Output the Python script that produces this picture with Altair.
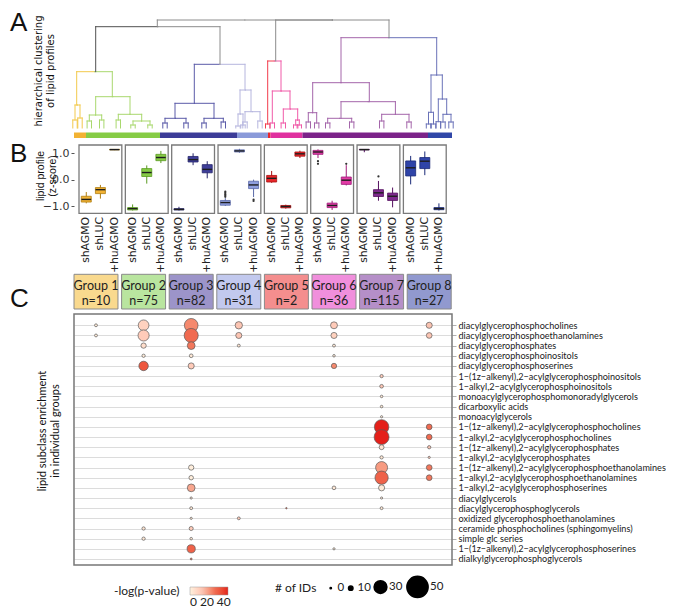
import altair as alt
import pandas as pd

W, H = 378, 555

# ---------------- data ----------------
group_ids = [1, 2, 3, 4, 5, 6, 7, 8]
group_n = [10, 75, 82, 31, 2, 36, 115, 27]
conditions = ["shAGMO", "shLUC", "+huAGMO"]

group_bar_color = ["#f2b233", "#86cc45", "#3c3c98", "#8a9ad9", "#e8262a", "#e0319f", "#7c2389", "#3047a8"]
group_dendro_color = ["#f2c94c", "#a9d86e", "#5b5ba8", "#b6b6de", "#f23c4c", "#f05aa8", "#a466aa", "#6a72b8"]
group_box_fill = ["#f2b233", "#86cc45", "#3f3f9a", "#8e9ede", "#e8262a", "#e23ba6", "#7e2a8e", "#2f44a8"]
group_box_stroke = ["#b07d10", "#5a9a20", "#25256a", "#5a6aa8", "#a81010", "#a01a78", "#551060", "#1a2a78"]
group_label_fill = ["#f9d98e", "#b9e59f", "#9c94c9", "#c2c9ee", "#f48e8e", "#f08fdc", "#b58fc8", "#9199cf"]

# colour bar under the dendrogram (leaf positions)
bar_start = [0, 12, 86, 163, 194, 196.5, 228.5, 354]
bar_end = [12, 86, 163, 194, 196.5, 228.5, 354, 378]

# dendrogram links (leaf position of the two children, merge distance, child distances)
link_x1 = [83.3, 201.7, 21.7, 2.7, 1, 21.7, 15.3, 44.3, 59, 120.3, 101, 91, 130, 166, 164, 171,
           193.7, 198.3, 209.3, 221.7, 267, 238.7, 234.3, 267, 253.7, 307.7, 357, 354.5, 364.3, 369]
link_x2 = [258.4, 315, 146, 38.3, 6, 56, 27.7, 67.7, 76, 171, 140, 112, 149.3, 177, 169, 186,
           207, 216, 223.7, 225.3, 362.7, 295.3, 242.7, 321.4, 277.7, 335, 368.3, 359.5, 372.7, 377]
link_h = [108, 108, 101.3, 56.3, 23, 31.3, 13, 13.7, 7, 63.7, 24.7, 9.7, 9.7, 38, 14, 16.3,
          67, 37, 19, 8, 90.3, 45.3, 15.3, 26.3, 9.7, 13.7, 53, 15.7, 29, 13.7]
link_h1 = [101.3, 67, 56.3, 23, 8, 13, 7, 8, 3, 24.7, 9.7, 5, 5, 14, 2, 6,
           4, 5, 5, 3, 45.3, 15.3, 6, 9.7, 5, 7, 15.7, 4, 6.3, 6]
link_h2 = [108, 90.3, 63.7, 31.3, 10, 13.7, 8, 7, 3, 38, 9.7, 5, 6, 16.3, 3, 7,
           37, 19, 8, 3, 53, 26.3, 5, 13.7, 6, 6, 29, 4, 13.7, 6]
link_c1 = ["gray", "gray", "dark", "g1", "g1", "g2", "g2", "g2", "g2", "g3", "g3", "g3", "g3", "g4", "g4", "g4",
           "g5", "g6", "g6", "g6", "g7", "g7", "g7", "g7", "g7", "g7", "g8", "g8", "g8", "g8"]
link_c2 = ["gray", "gray", "gray", "g2", "g1", "g2", "g2", "g2", "g2", "g4", "g3", "g3", "g3", "g4", "g4", "g4",
           "g6", "g6", "g6", "g6", "g8", "g7", "g7", "g7", "g7", "g7", "g8", "g8", "g8", "g8"]

# box plot summaries (per group: shAGMO, shLUC, +huAGMO)
box_lo = [-0.90, -0.72, 1.12, -1.17, -0.15, 0.63, -1.17, 0.55, 0.05, -1.00, 1.02, -0.66,
          -0.12, -1.10, 0.82, 0.82, -1.15, -0.22, 1.04, -0.80, -1.05, -0.18, 0.17, -1.17]
box_q1 = [-0.85, -0.53, 1.13, -1.15, 0.12, 0.72, -1.15, 0.67, 0.26, -0.97, 1.05, -0.34,
          -0.09, -1.07, 0.89, 0.96, -1.06, -0.18, 1.13, -0.64, -0.79, 0.14, 0.42, -1.14]
box_med = [-0.75, -0.38, 1.14, -1.10, 0.27, 0.84, -1.13, 0.76, 0.39, -0.87, 1.09, -0.20,
           0.05, -1.02, 0.98, 1.05, -0.98, -0.02, 1.14, -0.50, -0.63, 0.45, 0.70, -1.10]
box_q3 = [-0.63, -0.30, 1.15, -1.06, 0.42, 0.96, -1.10, 0.88, 0.57, -0.79, 1.13, -0.06,
          0.16, -0.98, 1.05, 1.11, -0.89, 0.10, 1.15, -0.38, -0.51, 0.71, 0.84, -1.06]
box_hi = [-0.47, -0.20, 1.16, -0.94, 0.54, 1.09, -1.03, 1.00, 0.70, -0.70, 1.17, 0.00,
          0.33, -0.95, 1.10, 1.15, -0.80, 0.55, 1.16, -0.05, -0.30, 0.90, 1.07, -0.90]
out_group = [4, 4, 4, 4, 4, 4, 4, 6, 6, 6, 7]
out_cond = ["shAGMO"] * 5 + ["+huAGMO"] * 2 + ["shAGMO", "shAGMO", "+huAGMO", "shLUC"]
out_value = [-0.45, -0.50, -0.55, -0.60, -0.65, -0.76, -0.81, 0.60, 0.70, 0.60, 0.12]

# lipid subclass enrichment
lipid_classes = [
    "diacylglycerophosphocholines",
    "diacylglycerophosphoethanolamines",
    "diacylglycerophosphates",
    "diacylglycerophosphoinositols",
    "diacylglycerophosphoserines",
    "1−(1z−alkenyl),2−acylglycerophosphoinositols",
    "1−alkyl,2−acylglycerophosphoinositols",
    "monoacylglycerophosphomonoradylglycerols",
    "dicarboxylic acids",
    "monoacylglycerols",
    "1−(1z−alkenyl),2−acylglycerophosphocholines",
    "1−alkyl,2−acylglycerophosphocholines",
    "1−(1z−alkenyl),2−acylglycerophosphates",
    "1−alkyl,2−acylglycerophosphates",
    "1−(1z−alkenyl),2−acylglycerophosphoethanolamines",
    "1−alkyl,2−acylglycerophosphoethanolamines",
    "1−alkyl,2−acylglycerophosphoserines",
    "diacylglycerols",
    "diacylglycerophosphoglycerols",
    "oxidized glycerophosphoethanolamines",
    "ceramide phosphocholines (sphingomyelins)",
    "simple glc series",
    "1−(1z−alkenyl),2−acylglycerophosphoserines",
    "dialkylglycerophosphoglycerols",
]
bub_row = [0, 0, 0, 0, 0, 0, 1, 1, 1, 1, 1, 1, 2, 2, 2, 2, 3, 3, 3, 4, 4, 4,
           5, 6, 7, 8, 9, 10, 10, 11, 11, 12, 12, 13, 13, 14, 14, 14, 15, 15, 15,
           16, 16, 16, 17, 17, 18, 18, 18, 19, 19, 20, 20, 21, 21, 22, 22, 23]
bub_group = [1, 2, 3, 4, 6, 8, 1, 2, 3, 4, 6, 8, 2, 3, 4, 6, 2, 3, 6, 2, 3, 6,
             7, 7, 7, 7, 7, 7, 8, 7, 8, 7, 8, 7, 8, 3, 7, 8, 3, 7, 8,
             3, 6, 7, 3, 7, 3, 5, 7, 3, 4, 2, 3, 2, 3, 3, 6, 3]
bub_n = [6, 25, 32, 17, 16, 14, 6, 26, 33, 14, 14, 13, 12, 18, 6, 6, 7, 8, 5, 22, 14, 12,
         7, 8, 5, 5, 4, 34, 13, 35, 13, 11, 7, 7, 4, 12, 28, 13, 10, 31, 13,
         18, 8, 14, 4, 4, 6, 1, 6, 4, 6, 7, 9, 7, 5, 19, 4, 3]
bub_p = [2, 10, 25, 14, 12, 15, 2, 12, 30, 14, 10, 14, 6, 28, 4, 3, 2, 3, 2, 35, 12, 25,
         12, 14, 3, 3, 3, 45, 30, 45, 30, 4, 15, 3, 12, 1, 22, 28, 1, 32, 28,
         20, 3, 2, 4, 3, 3, 30, 3, 4, 12, 4, 12, 3, 3, 32, 2, 28]

# ---------------- layout constants ----------------
F_LABEL = "Lato"
cmap = {"gray": "#8c8c8c", "dark": "#505050"}
for i, c in enumerate(group_dendro_color):
    cmap["g%d" % (i + 1)] = c

x_leaf = alt.Scale(domain=[0, 378], nice=False, zero=False)
y_dist = alt.Scale(domain=[118 - H, 118], nice=False, zero=False)
GX0, GX1 = 0.538, 8.479
x_grp = alt.Scale(domain=[GX0, GX1], nice=False, zero=False)
Z0, ZS = 169.65, 26.35
y_z = alt.Scale(domain=[(Z0 - H) / ZS, Z0 / ZS], nice=False, zero=False)
R0, RS = 315.3, 10.16
RLO, RHI = -R0 / RS, (H - R0) / RS
y_row = alt.Scale(domain=[RLO, RHI], nice=False, zero=False, reverse=True)
HALF = 0.462
COND_OFF = {"shAGMO": -0.305, "shLUC": 0.0, "+huAGMO": 0.305}

z_axis = alt.Axis(values=[-1, 0, 1], format=".1f", orient="left", domain=False, grid=False,
                  ticks=True, tickSize=3, tickColor="#555", labelFont="DejaVu Sans", labelFontSize=11,
                  labelColor="#333", labelPadding=2, title=None)
names_js = "[" + ",".join("'%s'" % s for s in lipid_classes) + "]"
row_axis = alt.Axis(orient="right", values=list(range(24)), labelExpr=names_js + "[datum.value]",
                    grid=True, gridColor="#dcdcdc", gridWidth=1.2, domain=False, ticks=True, tickSize=4,
                    tickColor="#b0b0b0", labelFont=F_LABEL, labelFontSize=9.1, labelColor="#1a1a1a",
                    labelPadding=2, labelLimit=0, title=None)

# ---------------- dendrogram ----------------
hseg, vseg = [], []
centers = [((a + b) / 2, h) for a, b, h in zip(link_x1, link_x2, link_h)]


def is_node(x, h):
    return any(abs(h - ch) < 0.35 and abs(x - cx) < 4 for cx, ch in centers)


bush = []
for a, b, h, h1, h2, c1, c2 in zip(link_x1, link_x2, link_h, link_h1, link_h2, link_c1, link_c2):
    m = (a + b) / 2
    hseg.append({"x": a, "x2": m, "y": h, "c": cmap[c1]})
    hseg.append({"x": m, "x2": b, "y": h, "c": cmap[c2]})
    vseg.append({"x": a, "y": h, "y2": h1, "c": cmap[c1]})
    vseg.append({"x": b, "y": h, "y2": h2, "c": cmap[c2]})
    for xx, hh, cc in ((a, h1, c1), (b, h2, c2)):
        if hh <= 10.5 and not is_node(xx, hh):
            bush.append((xx, hh, cc))
for xx, hh, cc in bush:
    hseg.append({"x": xx - 2.2, "x2": xx + 2.2, "y": hh, "c": cmap[cc]})
    vseg.append({"x": xx - 2.2, "y": hh, "y2": 0, "c": cmap[cc]})
    vseg.append({"x": xx + 2.2, "y": hh, "y2": 0, "c": cmap[cc]})

dh = pd.DataFrame(hseg)
dv = pd.DataFrame(vseg)
dendro_h = alt.Chart(dh).mark_rule(strokeWidth=1, strokeCap="square").encode(
    x=alt.X("x:Q", scale=x_leaf, axis=None), x2="x2:Q",
    y=alt.Y("y:Q", scale=y_dist, axis=None),
    color=alt.Color("c:N", scale=None))
dendro_v = alt.Chart(dv).mark_rule(strokeWidth=1, strokeCap="square").encode(
    x=alt.X("x:Q", scale=x_leaf, axis=None),
    y=alt.Y("y:Q", scale=y_dist, axis=None), y2="y2:Q",
    color=alt.Color("c:N", scale=None))
bar_df = pd.DataFrame({"s": bar_start, "e": bar_end, "c": group_bar_color,
                       "t": [-4.5] * 8, "b": [-10] * 8})
cbar = alt.Chart(bar_df).mark_rect().encode(
    x=alt.X("s:Q", scale=x_leaf, axis=None), x2="e:Q",
    y=alt.Y("t:Q", scale=y_dist, axis=None), y2="b:Q",
    color=alt.Color("c:N", scale=None))
dendro = alt.layer(dendro_h, dendro_v, cbar)

# ---------------- box plots ----------------
box_df = pd.DataFrame({
    "g": [g for g in group_ids for _ in conditions],
    "cond": conditions * 8,
    "lo": box_lo, "q1": box_q1, "med": box_med, "q3": box_q3, "hi": box_hi,
})
box_df["pos"] = box_df["g"] + box_df["cond"].map(COND_OFF)
box_df["mx1"] = box_df["pos"] - 0.105
box_df["mx2"] = box_df["pos"] + 0.105
box_df["fill"] = box_df["g"].map(lambda g: group_box_fill[g - 1])
box_df["stroke"] = box_df["g"].map(lambda g: group_box_stroke[g - 1])

out_df = pd.DataFrame({"g": out_group, "cond": out_cond, "v": out_value})
out_df["pos"] = out_df["g"] + out_df["cond"].map(COND_OFF)

panel_df = pd.DataFrame({"g": group_ids})
panel_df["x1"] = panel_df["g"] - HALF
panel_df["x2"] = panel_df["g"] + HALF
panel_df["zt"] = (Z0 - 135.0) / ZS
panel_df["zb"] = (Z0 - 203.3) / ZS

whisk = alt.Chart(box_df).mark_rule(strokeWidth=1).encode(
    x=alt.X("pos:Q", scale=x_grp, axis=None),
    y=alt.Y("lo:Q", scale=y_z, axis=z_axis), y2="hi:Q",
    color=alt.Color("stroke:N", scale=None))
boxes = alt.Chart(box_df).mark_bar(size=10, strokeWidth=0.8).encode(
    x=alt.X("pos:Q", scale=x_grp, axis=None),
    y=alt.Y("q1:Q", scale=y_z, axis=z_axis), y2="q3:Q",
    fill=alt.Fill("fill:N", scale=None),
    stroke=alt.Stroke("stroke:N", scale=None))
medians = alt.Chart(box_df).mark_rule(strokeWidth=1.4, color="#1e1e1e").encode(
    x=alt.X("mx1:Q", scale=x_grp, axis=None), x2="mx2:Q",
    y=alt.Y("med:Q", scale=y_z, axis=z_axis))
outl = alt.Chart(out_df).mark_circle(size=5, color="#333333", opacity=1).encode(
    x=alt.X("pos:Q", scale=x_grp, axis=None),
    y=alt.Y("v:Q", scale=y_z, axis=z_axis))
frames = alt.Chart(panel_df).mark_rect(fillOpacity=0, stroke="#7a7a7a", strokeWidth=1.3).encode(
    x=alt.X("x1:Q", scale=x_grp, axis=None), x2="x2:Q",
    y=alt.Y("zt:Q", scale=y_z, axis=z_axis), y2="zb:Q")
cond_labels = alt.Chart(box_df).mark_text(
    angle=270, align="right", baseline="middle", font="DejaVu Sans", fontSize=10.8, color="#222"
).encode(x=alt.X("pos:Q", scale=x_grp, axis=None), y=alt.value(207), text="cond:N")
box_layer = alt.layer(whisk, boxes, medians, outl, frames, cond_labels)

# ---------------- group label boxes ----------------
grp_df = pd.DataFrame({"g": group_ids, "n": group_n, "fill": group_label_fill})
grp_df["x1"] = grp_df["g"] - HALF
grp_df["x2"] = grp_df["g"] + HALF
grp_df["name"] = grp_df["g"].map(lambda g: "Group %d" % g)
grp_df["ntxt"] = grp_df["n"].map(lambda n: "n=%d" % n)
grp_rect = alt.Chart(grp_df).mark_rect(stroke="#8a8a8a", strokeWidth=1).encode(
    x=alt.X("x1:Q", scale=x_grp, axis=None), x2="x2:Q",
    y=alt.value(264.3), y2=alt.value(299),
    fill=alt.Fill("fill:N", scale=None))
grp_t1 = alt.Chart(grp_df).mark_text(font=F_LABEL, fontSize=12.5, color="#222", baseline="middle").encode(
    x=alt.X("g:Q", scale=x_grp, axis=None), y=alt.value(275.5), text="name:N")
grp_t2 = alt.Chart(grp_df).mark_text(font=F_LABEL, fontSize=12.5, color="#222", baseline="middle").encode(
    x=alt.X("g:Q", scale=x_grp, axis=None), y=alt.value(290.5), text="ntxt:N")
grp_layer = alt.layer(grp_rect, grp_t1, grp_t2)

# ---------------- bubble chart ----------------
bub_df = pd.DataFrame({"row": bub_row, "g": bub_group, "n": bub_n, "p": bub_p})
bub_frame_df = pd.DataFrame({"x1": [GX0], "x2": [GX1], "r1": [-1.11], "r2": [RHI]})
bub_frame = alt.Chart(bub_frame_df).mark_rect(fillOpacity=0, stroke="#777", strokeWidth=1.5).encode(
    x=alt.X("x1:Q", scale=x_grp, axis=None), x2="x2:Q",
    y=alt.Y("r1:Q", scale=y_row, axis=row_axis), y2="r2:Q")
bubbles = alt.Chart(bub_df).mark_circle(stroke="#5a5a5a", strokeWidth=0.7, opacity=1).encode(
    x=alt.X("g:Q", scale=x_grp, axis=None),
    y=alt.Y("row:Q", scale=y_row, axis=row_axis),
    fill=alt.Fill("p:Q", scale=alt.Scale(domain=[0, 15, 30, 45],
                                         range=["#ffffff", "#f9c2b0", "#f06a50", "#e4201a"]),
                  legend=alt.Legend(title="-log(p-value)", orient="none", legendX=40, legendY=577,
                                    direction="horizontal", titleOrient="left", gradientLength=38,
                                    gradientThickness=8, values=[0, 20, 40], titleFont=F_LABEL,
                                    titleFontSize=12, titleFontWeight="normal", labelFont=F_LABEL,
                                    labelFontSize=12, titleColor="#222", labelColor="#222",
                                    titlePadding=10, gradientStrokeColor="#999",
                                    gradientStrokeWidth=0.5)),
    size=alt.Size("n:Q", scale=alt.Scale(type="pow", exponent=2, domain=[0, 50], range=[2, 452]),
                  legend=alt.Legend(title="# of IDs", orient="none", legendX=201, legendY=565,
                                    direction="horizontal", titleOrient="left", values=[0, 10, 30, 50],
                                    symbolFillColor="black", symbolStrokeColor="black",
                                    symbolType="circle", labelFont=F_LABEL, labelFontSize=11.5,
                                    titleFont=F_LABEL, titleFontSize=12, titleFontWeight="normal",
                                    titleColor="#222", labelColor="#222", titlePadding=8,
                                    columnPadding=0, labelOffset=1)),
)
bub_layer = alt.layer(bub_frame, bubbles)


# ---------------- annotations ----------------
def txt(text, x, y, size, font, align="left", baseline="top", angle=0, lh=None):
    props = dict(align=align, baseline=baseline, angle=angle, fontSize=size, font=font,
                 color="#111", lineBreak="\n")
    if lh:
        props["lineHeight"] = lh
    return alt.Chart(pd.DataFrame({"t": [text]})).mark_text(**props).encode(
        x=alt.value(x), y=alt.value(y), text="t:N")


ann = [
    txt("A", -64, 0, 26, "Liberation Sans"),
    txt("B", -64, 131, 26, "Liberation Sans"),
    txt("C", -64, 276, 26, "Liberation Sans"),
    txt("hierarchical clustering\nof lipid profiles", -35, 61, 10, "DejaVu Sans",
        align="center", baseline="middle", angle=270, lh=12),
    txt("lipid profile\n(z-score)", -33, 166, 10.5, "Liberation Sans",
        align="center", baseline="middle", angle=270, lh=11.5),
    txt("lipid subclass enrichment\nin individual groups", -31, 421, 11, F_LABEL,
        align="center", baseline="middle", angle=270, lh=13),
]

chart = alt.layer(dendro, box_layer, grp_layer, bub_layer, *ann).resolve_scale(
    x="independent", y="independent", color="independent", fill="independent",
    stroke="independent", size="independent"
).properties(width=W, height=H, padding={"left": 2, "top": 2, "right": 0, "bottom": 0},
             background="white").configure_view(stroke=None)

chart.save("out.html", embed_options={"renderer": "svg", "actions": False})
